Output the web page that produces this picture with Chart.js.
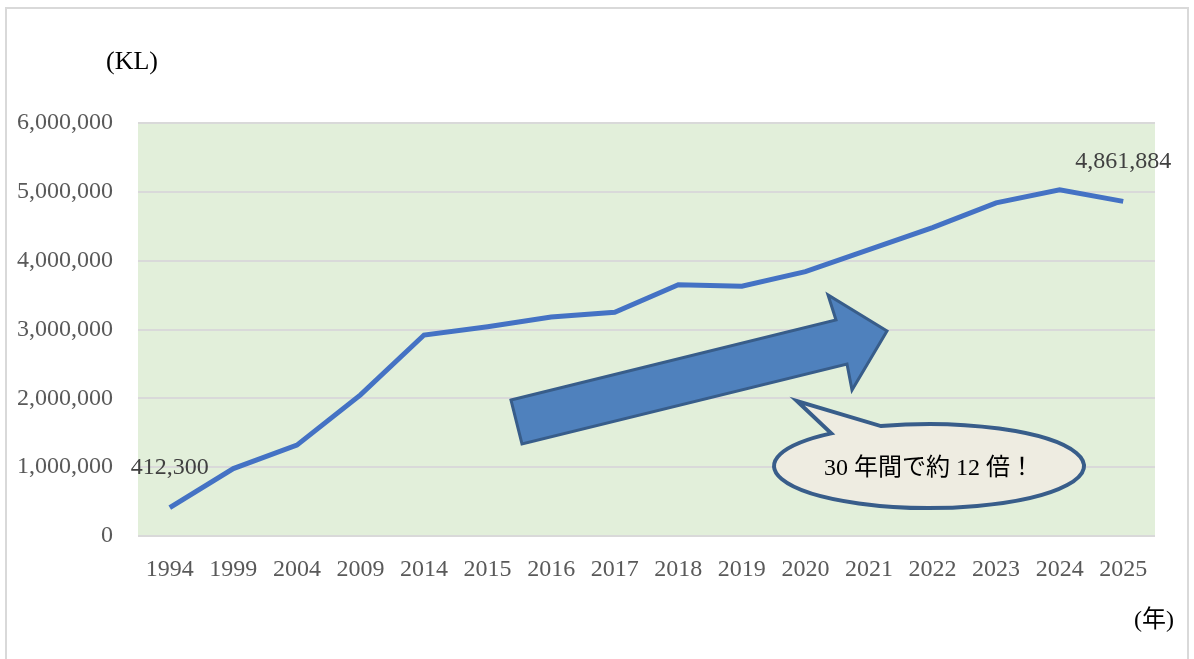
<!DOCTYPE html>
<html>
<head>
<meta charset="utf-8">
<script src="https://cdn.jsdelivr.net/npm/chart.js@4.4.1/dist/chart.umd.min.js"></script>
<style>
    html, body { margin: 0; padding: 0; background: #fff; overflow: hidden; }
    #frame {
        position: absolute; left: 5px; top: 7px;
        width: 1184px; height: 700px;
        border: 2px solid #d9d9d9; box-sizing: border-box;
    }
    #wrap { position: absolute; left: 0; top: 0; width: 1194px; height: 659px; }
</style>
</head>
<body>
<div id="frame"></div>
<div id="wrap"><canvas id="chart" width="1194" height="659"></canvas></div>
<script>
// data (KL per year)
const years = ['1994', '1999', '2004', '2009', '2014', '2015', '2016', '2017',
               '2018', '2019', '2020', '2021', '2022', '2023', '2024', '2025'];
const volumes = [412300, 980000, 1320000, 2050000, 2920000, 3040000, 3180000, 3250000,
                 3650000, 3630000, 3840000, 4160000, 4480000, 4840000, 5030000, 4861884];
const labelledPoints = [0, 15];
const yTicks = [0, 1000000, 2000000, 3000000, 4000000, 5000000, 6000000];

const SERIF = '"Liberation Serif", "Times New Roman", "Noto Sans CJK JP", serif';

// green plot background
const plotBackground = {
    id: 'plotBackground',
    beforeDraw(chart) {
        const { ctx, chartArea: a } = chart;
        ctx.save();
        ctx.fillStyle = '#e2efda';
        ctx.fillRect(a.left, a.top, a.right - a.left, a.bottom - a.top);
        ctx.restore();
    }
};

// value labels on first and last point
const pointLabels = {
    id: 'pointLabels',
    afterDatasetsDraw(chart) {
        const { ctx } = chart;
        const x = chart.scales.x, y = chart.scales.y;
        ctx.save();
        ctx.font = '24px ' + SERIF;
        ctx.fillStyle = '#404040';
        ctx.textAlign = 'center';
        ctx.textBaseline = 'middle';
        labelledPoints.forEach(i => {
            const px = x.getPixelForValue(i);
            const py = y.getPixelForValue(volumes[i]);
            ctx.fillText(volumes[i].toLocaleString('en-US'), px, py - 40);
        });
        ctx.restore();
    }
};

// unit labels, arrow and speech bubble
const decorations = {
    id: 'decorations',
    afterDraw(chart) {
        const { ctx } = chart;
        ctx.save();

        ctx.fillStyle = '#000';
        ctx.font = '26px ' + SERIF;
        ctx.textBaseline = 'middle';
        ctx.textAlign = 'left';
        ctx.fillText('(KL)', 106, 62);
        ctx.font = '24px ' + SERIF;
        ctx.fillText('(年)', 1134, 621);

        // block arrow
        ctx.beginPath();
        ctx.moveTo(511, 400);
        ctx.lineTo(836, 320);
        ctx.lineTo(828, 295);
        ctx.lineTo(887, 331);
        ctx.lineTo(852, 390);
        ctx.lineTo(847, 364);
        ctx.lineTo(522, 444);
        ctx.closePath();
        ctx.fillStyle = '#4f81bd';
        ctx.fill();
        ctx.lineWidth = 3;
        ctx.lineJoin = 'miter';
        ctx.strokeStyle = '#385d8a';
        ctx.stroke();

        // speech bubble
        const cx = 929, cy = 466, rx = 155, ry = 42;
        const a1 = Math.atan2((433 - cy) / ry, (830 - cx) / rx);
        const a2 = Math.atan2((427 - cy) / ry, (882 - cx) / rx);
        ctx.beginPath();
        ctx.ellipse(cx, cy, rx, ry, 0, a2, a1 + 2 * Math.PI, false);
        ctx.lineTo(797, 401);
        ctx.closePath();
        ctx.fillStyle = '#eeece1';
        ctx.fill();
        ctx.lineWidth = 4;
        ctx.strokeStyle = '#385d8a';
        ctx.stroke();

        ctx.fillStyle = '#000';
        ctx.font = '24px ' + SERIF;
        ctx.textAlign = 'center';
        ctx.fillText('30 年間で約 12 倍！', cx, cy + 3);

        ctx.restore();
    }
};

new Chart(document.getElementById('chart'), {
    type: 'line',
    data: {
        labels: years,
        datasets: [{
            data: volumes,
            borderColor: '#4472c4',
            borderWidth: 5,
            pointRadius: 0,
            tension: 0,
            fill: false
        }]
    },
    options: {
        responsive: false,
        animation: false,
        layout: { padding: { top: 123, right: 39, bottom: 0, left: 0 } },
        plugins: {
            legend: { display: false },
            tooltip: { enabled: false }
        },
        scales: {
            x: {
                offset: true,
                grid: { display: false, drawTicks: false, offset: true },
                border: { display: false },
                ticks: {
                    color: '#595959',
                    font: { family: SERIF, size: 24 },
                    padding: 19,
                    maxRotation: 0,
                    autoSkip: false
                },
                afterFit(scale) { scale.height = 123; }
            },
            y: {
                min: 0,
                max: 6000000,
                grid: { color: '#d9d9d9', lineWidth: 2, drawTicks: false },
                border: { display: false },
                afterBuildTicks(scale) { scale.ticks = yTicks.map(v => ({ value: v })); },
                ticks: {
                    color: '#595959',
                    font: { family: SERIF, size: 24 },
                    padding: 25,
                    callback: v => Number(v).toLocaleString('en-US')
                },
                afterFit(scale) { scale.width = 138; }
            }
        }
    },
    plugins: [plotBackground, pointLabels, decorations]
});
</script>
</body>
</html>
